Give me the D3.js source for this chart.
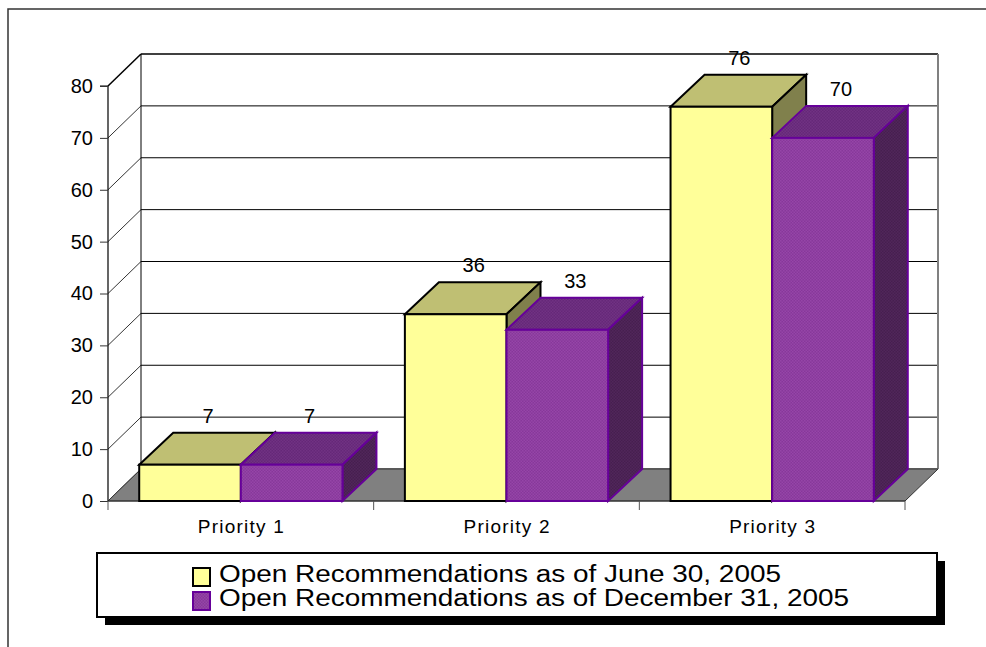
<!DOCTYPE html>
<html><head><meta charset="utf-8">
<script src="https://cdn.jsdelivr.net/npm/d3@7"></script>
<style>body{margin:0;background:#fff}svg{display:block;font-family:"Liberation Sans",Arial,sans-serif}</style>
</head><body>
<svg id="c" width="986" height="647"></svg>
<script>
const categories = ["Priority 1", "Priority 2", "Priority 3"];
const seriesNames = ["Open Recommendations as of June 30, 2005", "Open Recommendations as of December 31, 2005"];
const june2005 = [7, 36, 76];
const dec2005 = [7, 33, 70];
const yTicks = [0, 10, 20, 30, 40, 50, 60, 70, 80];

const svg = d3.select("#c");
const defs = svg.append("defs");
function checker(id, a, b) {
  const p = defs.append("pattern").attr("id", id).attr("width", 3).attr("height", 3).attr("patternUnits", "userSpaceOnUse");
  p.append("rect").attr("width", 3).attr("height", 3).attr("fill", a);
  p.append("rect").attr("width", 1.5).attr("height", 1.5).attr("fill", b);
  p.append("rect").attr("x", 1.5).attr("y", 1.5).attr("width", 1.5).attr("height", 1.5).attr("fill", b);
}
checker("pFront", "#87389a", "#9645a8");
checker("pTop", "#652878", "#713283");
checker("pSide", "#461f4f", "#51265b");

const DX = 33, DY = -32, BDX = 34;
const y = d3.scaleLinear().domain([0, 80]).range([501, 86]);
const x0 = d3.scaleBand().domain(categories).range([108, 905]);
const groupW = x0.bandwidth() * 0.765;
const x1 = d3.scaleBand().domain([0, 1]).range([0, groupW]);

// outer frame
svg.append("rect").attr("x", 8).attr("y", 9).attr("width", 1000).attr("height", 700)
  .attr("fill", "none").attr("stroke", "#333").attr("stroke-width", 1.5);

const xL = x0.range()[0], xR = x0.range()[1];
// back wall gridlines
svg.append("g").selectAll("line").data(yTicks).join("line")
  .attr("x1", xL + DX).attr("x2", xR + DX)
  .attr("y1", d => y(d) + DY).attr("y2", d => y(d) + DY)
  .attr("stroke", "#000").attr("stroke-width", d => d === 80 ? 1.5 : 1);
// side wall gridlines
svg.append("g").selectAll("line").data(yTicks).join("line")
  .attr("x1", xL).attr("x2", xL + DX)
  .attr("y1", d => y(d)).attr("y2", d => y(d) + DY)
  .attr("stroke", "#000").attr("stroke-width", d => d === 80 ? 1.5 : 0.8);
// back wall edges
svg.append("line").attr("x1", xL + DX).attr("x2", xL + DX).attr("y1", y(80) + DY).attr("y2", y(0) + DY).attr("stroke", "#000");
svg.append("line").attr("x1", xR + DX).attr("x2", xR + DX).attr("y1", y(80) + DY).attr("y2", y(0) + DY).attr("stroke", "#808080").attr("stroke-width", 2);

// floor
svg.append("path")
  .attr("d", d3.line()([[xL, y(0)], [xR, y(0)], [xR + DX, y(0) + DY], [xL + DX, y(0) + DY]]) + "Z")
  .attr("fill", "#808080").attr("stroke", "#333").attr("stroke-width", 1);

// y axis
const yAxis = d3.axisLeft(y).tickValues(yTicks).tickSize(8).tickPadding(7);
const ga = svg.append("g").attr("transform", `translate(${xL},0)`).call(yAxis);
ga.attr("font-size", null).attr("font-family", null);
ga.select(".domain").attr("stroke", "#000").attr("stroke-width", 1.2).attr("d", `M-8,${y(80)}H0V${y(0)}`);
ga.selectAll(".tick line").attr("stroke", "#333");
ga.selectAll("text").attr("font-size", 20).attr("fill", "#000");

// x axis ticks
const xt = svg.append("g");
xt.append("line").attr("x1", xL).attr("x2", xR).attr("y1", y(0)).attr("y2", y(0)).attr("stroke", "#333").attr("stroke-width", 1.2);
const bounds = categories.map(c => x0(c)).concat([xR]);
xt.selectAll(".t").data(bounds).join("line").attr("class", "t")
  .attr("x1", d => d).attr("x2", d => d).attr("y1", y(0)).attr("y2", y(0) + 9).attr("stroke", "#555");
xt.selectAll("text").data(categories).join("text")
  .attr("x", d => x0(d) + x0.bandwidth() / 2).attr("y", 533)
  .attr("text-anchor", "middle").attr("font-size", 19)
  .attr("textLength", 86).attr("lengthAdjust", "spacing").text(d => d);

// bars
const styles = [
  { front: "#ffff99", top: "#bfbf73", side: "#80804c", stroke: "#000" },
  { front: "url(#pFront)", top: "url(#pTop)", side: "url(#pSide)", stroke: "#660099" }
];
const series = [june2005, dec2005];
const bars = [];
categories.forEach((c, i) => {
  series.forEach((s, j) => bars.push({ c, j, v: s[i] }));
});
const gb = svg.append("g");
bars.forEach(b => {
  const st = styles[b.j];
  const xa = x0(b.c) + (x0.bandwidth() - groupW) / 2 + x1(b.j);
  const xb = xa + x1.bandwidth();
  const yt = y(b.v), yb = y(0);
  const g = gb.append("g").attr("stroke", st.stroke).attr("stroke-width", 2).attr("stroke-linejoin", "miter");
  g.append("path").attr("d", d3.line()([[xa, yt], [xb, yt], [xb + BDX, yt + DY], [xa + BDX, yt + DY]]) + "Z").attr("fill", st.top);
  g.append("path").attr("d", d3.line()([[xb, yt], [xb + BDX, yt + DY], [xb + BDX, yb + DY], [xb, yb]]) + "Z").attr("fill", st.side);
  g.append("rect").attr("x", xa).attr("y", yt).attr("width", xb - xa).attr("height", yb - yt).attr("fill", st.front);
  b.lx = (xa + xb) / 2 + 18;
  b.ly = yt + DY - 10;
});
svg.append("g").selectAll("text").data(bars).join("text")
  .attr("x", d => d.lx).attr("y", d => d.ly).attr("text-anchor", "middle")
  .attr("font-size", 20).text(d => d.v);

// legend
const lg = svg.append("g");
lg.append("rect").attr("x", 105).attr("y", 561).attr("width", 840).attr("height", 64).attr("fill", "#000");
lg.append("rect").attr("x", 97).attr("y", 553).attr("width", 840).attr("height", 64).attr("fill", "#fff").attr("stroke", "#000").attr("stroke-width", 2);
const legW = [562, 630];
seriesNames.forEach((n, j) => {
  const yy = 582 + j * 24;
  lg.append("rect").attr("x", 193).attr("y", yy - 14).attr("width", 17).attr("height", 18)
    .attr("fill", styles[j].front).attr("stroke", styles[j].stroke).attr("stroke-width", 2);
  lg.append("text").attr("x", 219).attr("y", yy).attr("font-size", 23)
    .attr("textLength", legW[j]).attr("lengthAdjust", "spacingAndGlyphs").text(n);
});
</script>
</body></html>
